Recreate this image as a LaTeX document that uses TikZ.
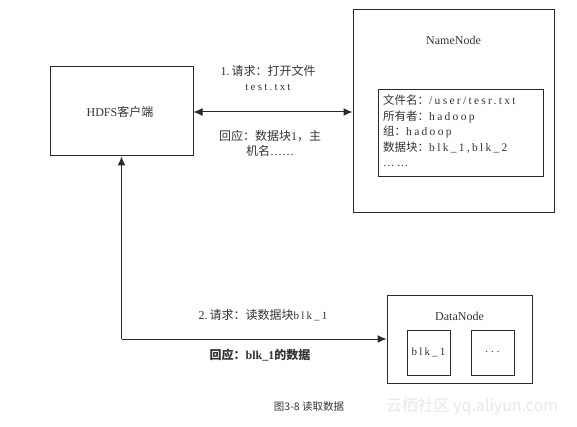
\documentclass[tikz,border=0pt]{standalone}
\usepackage{fontspec}
\setmainfont{Liberation Serif}
\newfontfamily\cjk{Noto Sans CJK SC}
\newfontfamily\capfont{Noto Sans CJK SC}
\newfontfamily\mono[LetterSpace=20]{Liberation Serif}
\usetikzlibrary{arrows.meta}
\definecolor{ink}{HTML}{2A2A2A}
\definecolor{txt}{HTML}{333333}
\definecolor{wm}{HTML}{E8E8E8}
\begin{document}
\begin{tikzpicture}[x=1pt,y=-1pt,
  box/.style={draw=ink,line width=1pt},
  lbl/.style={text=txt,font=\fontsize{12}{14}\selectfont,align=center,inner sep=0pt},
  conn/.style={draw=ink,line width=1pt},
  tip/.style={-{Latex[length=9pt,width=8pt]}}]
\useasboundingbox (0,0) rectangle (577,427);
% HDFS client
\node[box,minimum width=143pt,minimum height=89pt,inner sep=0pt] (hdfs) at (121.5,111.5) {};
\node[lbl] (hdfst) at (120,111.5) {HDFS{\cjk 客户端}};
% NameNode
\node[box,minimum width=201pt,minimum height=203pt,inner sep=0pt] (nn) at (453.5,111.5) {};
\node[lbl] (nnt) at (453.5,40) {NameNode};
\node[box,minimum width=165pt,minimum height=87pt,inner sep=0pt] (meta) at (460.5,133.5) {};
\node[lbl,align=left,anchor=north west,font=\fontsize{11.5}{15.5}\selectfont] (metat) at (383,95) {{\cjk 文件名：}{\mono /user/tesr.txt}\\{\cjk 所有者：}{\mono hadoop}\\{\cjk 组：}{\mono hadoop}\\{\cjk 数据块：}{\mono blk\_1,blk\_2}\\{\mono ……}};
% arrow 1
\draw[conn,{Latex[length=9pt,width=8pt]}-{Latex[length=9pt,width=8pt]}] (hdfs.east |- 0,112) -- (nn.west |- 0,112);
\node[lbl] (l1) at (268,78) {1.\,{\cjk 请求：打开文件}\\[1pt]{\mono\fontsize{11}{13}\selectfont test.txt}};
\node[lbl] (l2) at (270,143) {{\cjk 回应：数据块}1{\cjk ，主}\\[1pt]{\cjk 机名}……};
% DataNode
\node[box,minimum width=145pt,minimum height=88pt,inner sep=0pt] (dn) at (459.5,339) {};
\node[lbl] (dnt) at (459.5,316) {DataNode};
\node[box,minimum width=43pt,minimum height=45pt,inner sep=0pt] (b1) at (428.5,352.5) {};
\node[lbl,font=\mono\fontsize{11}{13}\selectfont] (b1t) at (428.5,352.5) {blk\_1};
\node[box,minimum width=43pt,minimum height=45pt,inner sep=0pt] (b2) at (492.5,352.5) {};
\node[lbl,font=\fontsize{11}{13}\selectfont] (b2t) at (492.5,352.5) {.\hspace{3pt}.\hspace{3pt}.};
% connector 2
\coordinate (corner) at (121.5,339);
\draw[conn,tip] (corner) -- (hdfs.south);
\draw[conn,tip] (corner) -- (dn.west |- corner);
\node[lbl] (l3) at (263,315) {2.\,{\cjk 请求：读数据块}{\mono\fontsize{11}{13}\selectfont blk\_1}};
\node[lbl,font=\bfseries\fontsize{12}{14}\selectfont] (l4) at (260,355) {{\cjk\bfseries 回应：}blk\_1{\cjk\bfseries 的数据}};
% caption
\node[lbl,font=\capfont\fontsize{10.5}{12}\selectfont] (cap) at (309,407) {图3-8 读取数据};
\node[lbl,text=wm,font=\capfont\fontsize{16}{18}\selectfont] (wmk) at (472,407) {云栖社区 yq.aliyun.com};
\end{tikzpicture}
\end{document}
